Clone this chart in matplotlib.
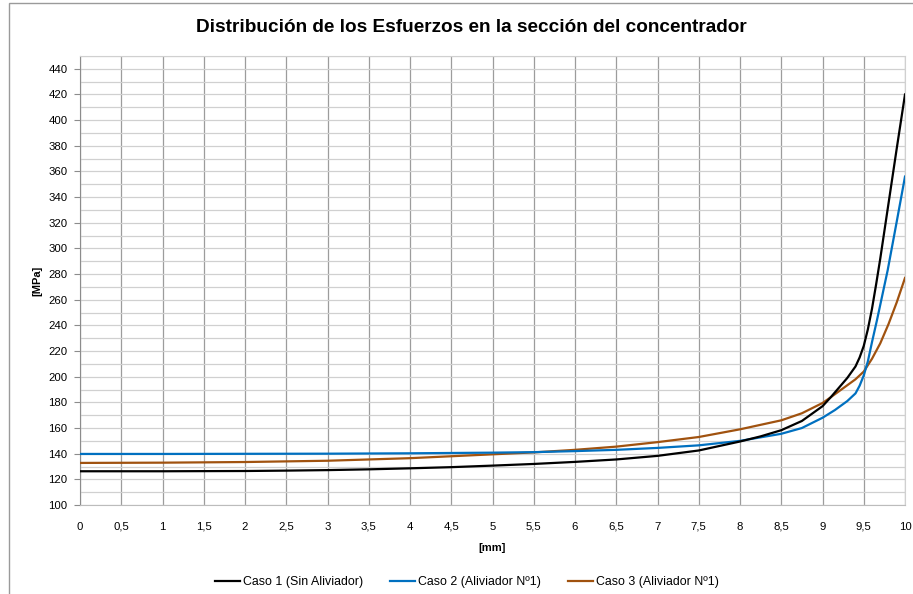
import matplotlib
matplotlib.use("Agg")
import matplotlib.pyplot as plt
from matplotlib.patches import Rectangle
from matplotlib.ticker import MultipleLocator, FuncFormatter

# Distribucion de esfuerzos - 3 casos
x_caso1 = [0, 0.5, 1, 1.5, 2, 2.5, 3, 3.5, 4, 4.5, 5, 5.5, 6, 6.5, 7, 7.5, 8, 8.25, 8.5, 8.75,
           9, 9.1, 9.2, 9.3, 9.4, 9.45, 9.5, 9.55, 9.6, 9.65, 9.7, 9.8, 9.9, 10]
y_caso1 = [126.3, 126.3, 126.3, 126.4, 126.5, 126.8, 127.2, 127.8, 128.6, 129.5, 130.7, 132.0, 133.6,
           135.5, 138.3, 142.5, 149.5, 153.5, 158.3, 165.5,
           177.0, 184.0, 191.5, 199.0, 208.0, 215.0, 224.0, 237.0, 253.0, 272.0, 292.0,
           335.0, 378.0, 420.0]

x_caso2 = [0, 1, 2, 3, 4, 5, 5.5, 6, 6.5, 7, 7.5, 8, 8.5, 8.75, 9, 9.15, 9.3, 9.4, 9.45, 9.5, 9.55,
           9.6, 9.66, 9.72, 9.79, 9.9, 10]
y_caso2 = [139.8, 139.8, 139.9, 140.0, 140.3, 140.8, 141.2, 142.0, 143.0, 144.5, 146.5, 150.0,
           155.5, 160.0, 168.0, 174.0, 181.0, 187.0, 193.0, 201.0, 212.0,
           227.0, 244.0, 262.0, 283.0, 321.0, 356.0]

x_caso3 = [0, 1, 2, 3, 4, 5, 5.5, 6, 6.5, 7, 7.5, 8, 8.5, 8.75, 9, 9.1, 9.25, 9.4, 9.5, 9.6,
           9.7, 9.8, 9.9, 10]
y_caso3 = [132.8, 133.0, 133.5, 134.5, 136.5, 139.5, 141.0, 143.0, 145.5, 149.0, 153.0, 159.0,
           166.0, 171.5, 179.5, 184.0, 191.0, 198.0, 204.0, 214.0,
           226.0, 241.0, 258.0, 277.0]

etiquetas = ["Caso 1 (Sin Aliviador)", "Caso 2 (Aliviador Nº1)", "Caso 3 (Aliviador Nº1)"]
colores = ["#000000", "#0070c0", "#a0520f"]

plt.rcParams['font.family'] = ['Liberation Sans', 'DejaVu Sans']

W, H = 913, 594
fig = plt.figure(figsize=(W / 100, H / 100), dpi=100)
fig.patch.set_facecolor("white")

# marco del grafico
fig.patches.append(Rectangle((9 / W, -0.05), 1.1, 1 - 3 / H + 0.05, transform=fig.transFigure,
                             fill=False, edgecolor="#9a9a9a", linewidth=1.0))

ax = fig.add_axes([80 / W, 1 - 505 / H, (905 - 80) / W, (505 - 56) / H])

ax.plot(x_caso1, y_caso1, color=colores[0], linewidth=1.6, label=etiquetas[0], zorder=5)
ax.plot(x_caso2, y_caso2, color=colores[1], linewidth=1.6, label=etiquetas[1], zorder=4)
ax.plot(x_caso3, y_caso3, color=colores[2], linewidth=1.6, label=etiquetas[2], zorder=3)

ax.set_xlim(0, 10)
ax.set_ylim(100, 450)
ax.xaxis.set_major_locator(MultipleLocator(0.5))
ax.yaxis.set_minor_locator(MultipleLocator(10))
ax.set_yticks([v for v in range(100, 441, 20)])
ax.xaxis.set_major_formatter(FuncFormatter(lambda v, p: ("%g" % v).replace(".", ",")))

ax.grid(True, axis="x", which="major", color="#9c9c9c", linewidth=0.9)
ax.grid(True, axis="y", which="both", color="#d0d0d0", linewidth=0.9)
ax.set_axisbelow(True)

for s in ["top", "right"]:
    ax.spines[s].set_color("#d0d0d0")
ax.spines["left"].set_color("#8c8c8c")
ax.spines["bottom"].set_color("#bcbcbc")

ax.tick_params(axis="y", which="major", length=4, color="#8c8c8c", labelsize=8.2, pad=5)
ax.tick_params(axis="y", which="minor", length=0)
ax.tick_params(axis="x", length=0, labelsize=8.2, pad=12)

ax.set_xlabel("[mm]", fontsize=8, fontweight="bold", labelpad=8)
ax.set_ylabel("[MPa]", fontsize=8, fontweight="bold", labelpad=4)

fig.text(471 / W, 1 - 28 / H, "Distribución de los Esfuerzos en la sección del concentrador",
         ha="center", va="center", fontsize=13.7, fontweight="bold")

fig.legend(loc="center", bbox_to_anchor=(467 / W, 1 - 582 / H), ncol=3, frameon=False,
           fontsize=8.9, handlelength=2.0, handletextpad=0.25, columnspacing=2.2)

fig.savefig("out.png", dpi=100)
